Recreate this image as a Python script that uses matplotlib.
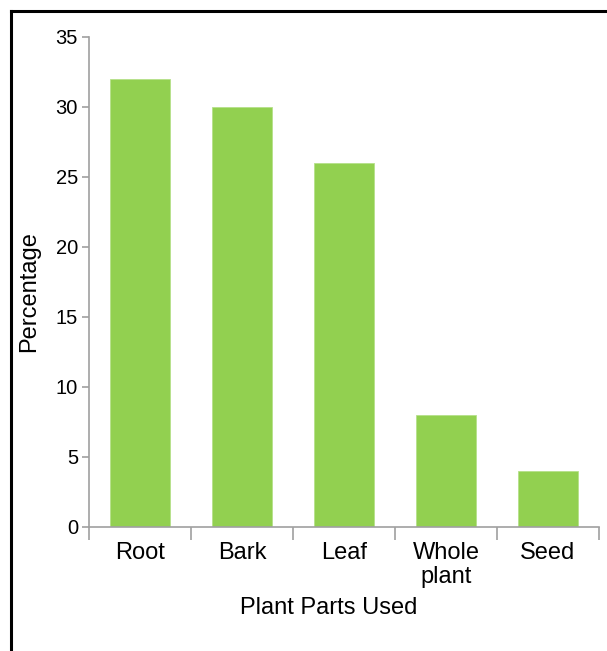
import matplotlib.pyplot as plt
from matplotlib.lines import Line2D

plt.rcParams['font.family'] = ['Liberation Sans', 'DejaVu Sans']

# data
parts = ['Root', 'Bark', 'Leaf', 'Whole\nplant', 'Seed']
percent = [32, 30, 26, 8, 4]

W, H = 607, 651
fig = plt.figure(figsize=(W / 100, H / 100), dpi=100)
ax = fig.add_axes([89 / W, 1 - 527 / H, (599 - 89) / W, (527 - 37) / H])

x = range(len(parts))
ax.bar(x, percent, width=0.58, color='#92D050', edgecolor='#b5e08a', linewidth=0.6)

ax.set_xlim(-0.5, len(parts) - 0.5)
ax.set_ylim(0, 35)
ax.set_yticks(range(0, 36, 5))

# category labels at centres, tick marks at boundaries
ax.set_xticks(list(x))
ax.set_xticklabels(parts, fontsize=17, linespacing=1.1)
ax.tick_params(axis='x', length=0, pad=11)
ax.set_xticks([i - 0.5 for i in range(len(parts) + 1)], minor=True)
ax.tick_params(axis='x', which='minor', length=9, color='#a0a0a0', width=1.2)
ax.tick_params(axis='y', length=5, color='#a0a0a0', width=1.2, labelsize=14.5, pad=3)

for s in ['top', 'right']:
    ax.spines[s].set_visible(False)
for s in ['left', 'bottom']:
    ax.spines[s].set_color('#a0a0a0')
    ax.spines[s].set_linewidth(1.2)

ax.set_ylabel('Percentage', fontsize=17, va='center')
ax.yaxis.set_label_coords((29 - 89) / (599 - 89), 0.5 - 10 / 490)
ax.set_xlabel('Plant Parts Used', fontsize=17, va='center')
ax.xaxis.set_label_coords((329 - 89) / (599 - 89), -(608 - 527) / (527 - 37))

# frame around the figure (left and top edges)
fig.add_artist(Line2D([10.5 / W, 10.5 / W], [0, 1 - 10.5 / H], color='black', lw=2.2,
                      transform=fig.transFigure))
fig.add_artist(Line2D([10.5 / W, 1], [1 - 10.5 / H, 1 - 10.5 / H], color='black', lw=2.2,
                      transform=fig.transFigure))

fig.savefig('out.png', dpi=100)
